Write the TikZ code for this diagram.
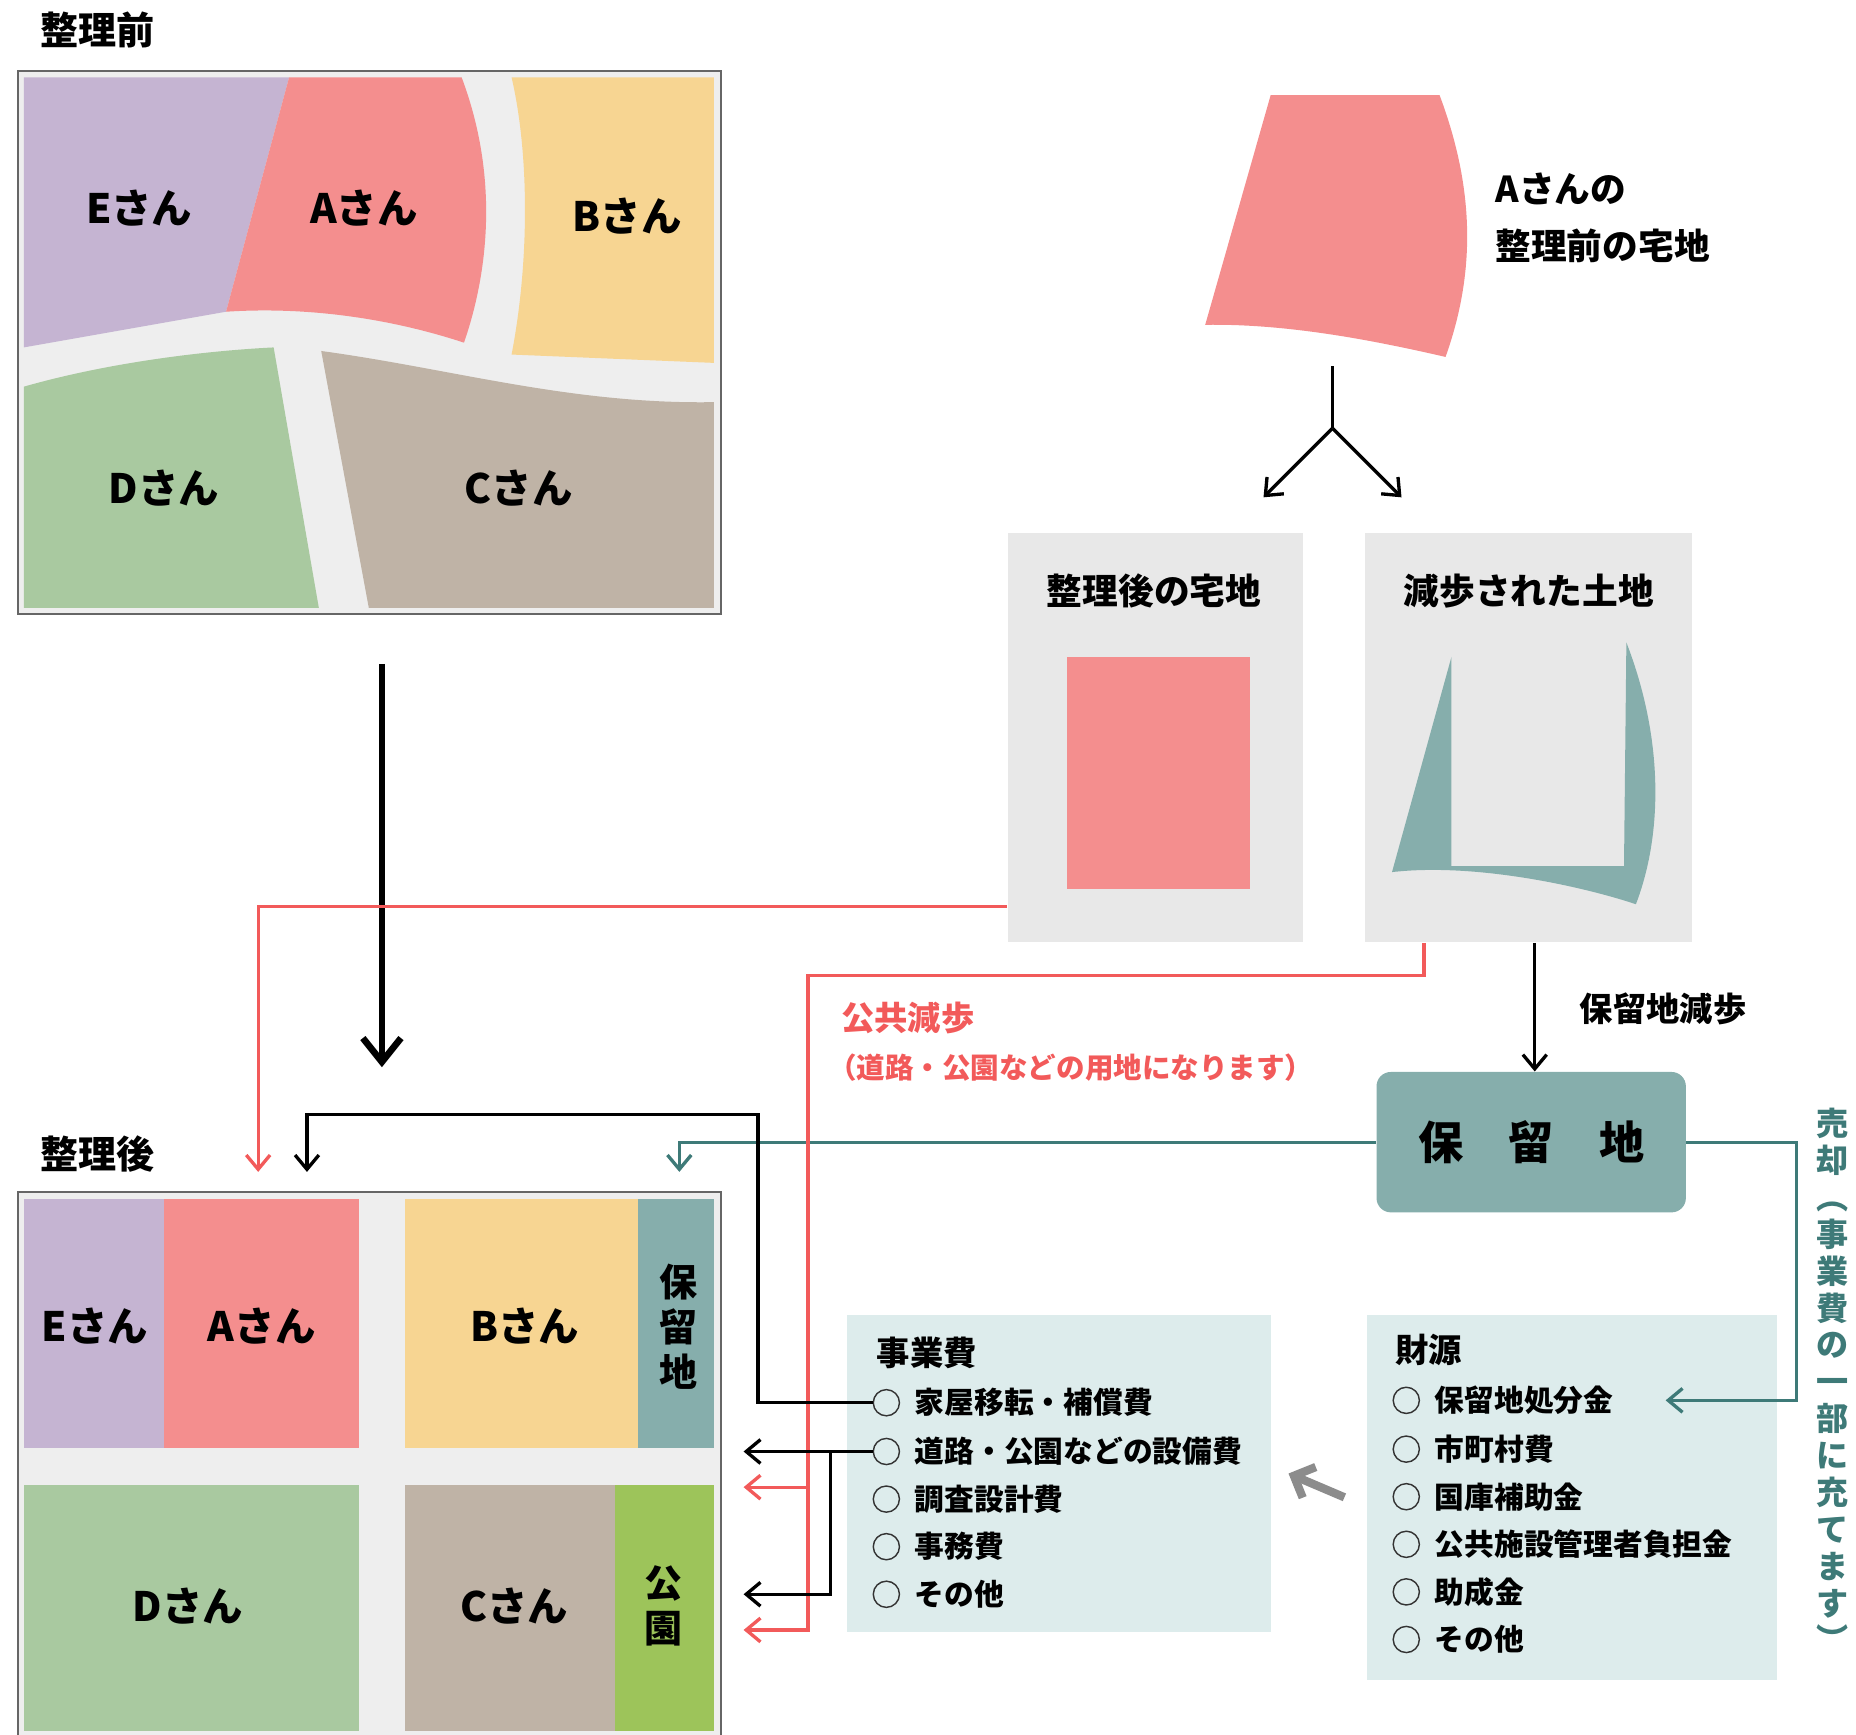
\documentclass[tikz,border=0pt]{standalone}
\usepackage{fontspec}
\setmainfont{Noto Sans CJK JP}
\usetikzlibrary{arrows.meta}
\definecolor{pE}{HTML}{C5B4D2}
\definecolor{pA}{HTML}{F48E8E}
\definecolor{pB}{HTML}{F7D592}
\definecolor{pD}{HTML}{A9C9A0}
\definecolor{pC}{HTML}{BFB3A6}
\definecolor{pT}{HTML}{86AEAC}
\definecolor{pG}{HTML}{9DC45A}
\definecolor{road}{HTML}{EEEEEE}
\definecolor{boxg}{HTML}{E8E8E8}
\definecolor{boxb}{HTML}{DDECEC}
\definecolor{teal}{HTML}{3E7A78}
\definecolor{red}{HTML}{F25A5A}
\begin{document}
\begin{tikzpicture}[x=0.5pt,y=-0.5pt,
 lab/.style={font=\fontsize{17}{17}\selectfont\bfseries},
 ttl/.style={font=\fontsize{15}{15}\selectfont\bfseries},
 itm/.style={font=\fontsize{12.5}{13}\selectfont\bfseries,anchor=west},
 circ/.style={circle,draw=black!80,line width=0.6pt,minimum size=11pt,inner sep=0pt},
 ar/.style={-{Straight Barb[length=6pt,width=10pt]},line width=1.4pt},
 vt/.style={align=center,font=\fontsize{16}{19}\selectfont\bfseries}]
\useasboundingbox (0,0) rectangle (1560,1458);
% ---- before
\node[ttl,font=\fontsize{16}{16}\selectfont\bfseries] (t1) at (82,25) {整理前};
\draw[fill=road,draw=black!60,line width=0.8pt] (15,60) rectangle (606,516);
\fill[pE] (20,65) -- (243,65) -- (190,262) -- (20,292) -- cycle;
\fill[pA] (243,65) -- (388,65) .. controls (420,150) and (410,230) .. (390,288) .. controls (320,265) and (250,258) .. (190,262) -- cycle;
\fill[pB] (430,65) -- (600,65) -- (600,305) -- (430,298) .. controls (445,220) and (445,130) .. cycle;
\fill[pD] (20,325) .. controls (90,305) and (170,295) .. (230,292) -- (268,511) -- (20,511) -- cycle;
\fill[pC] (270,295) .. controls (380,310) and (480,340) .. (600,338) -- (600,511) -- (310,511) -- cycle;
\node[lab] (lE) at (117,175) {Eさん};
\node[lab] (lA) at (306,175) {Aさん};
\node[lab] (lB) at (527,182) {Bさん};
\node[lab] (lD) at (138,410) {Dさん};
\node[lab] (lC) at (436,410) {Cさん};
\coordinate (bigS) at (321,558); \coordinate (bigE) at (321,897);
\draw[-{Straight Barb[length=10pt,width=16pt]},line width=2.8pt] (bigS) -- (bigE);
% ---- after
\node[font=\fontsize{16}{16}\selectfont\bfseries] (t2) at (82,970) {整理後};
\draw[fill=road,draw=black!60,line width=0.8pt] (15,1002) rectangle (606,1460);
\fill[pE] (20,1008) rectangle (138,1217);
\fill[pA] (138,1008) rectangle (302,1217);
\fill[pB] (340,1008) rectangle (536,1217);
\fill[pT] (536,1008) rectangle (600,1217);
\fill[pD] (20,1248) rectangle (302,1455);
\fill[pC] (340,1248) rectangle (517,1455);
\fill[pG] (517,1248) rectangle (600,1455);
\node[lab] (qE) at (80,1115) {Eさん};
\node[lab] (qA) at (220,1115) {Aさん};
\node[lab] (qB) at (441,1115) {Bさん};
\node[vt] (qH) at (570,1115) {保\\留\\地};
\node[lab] (qD) at (158,1350) {Dさん};
\node[lab] (qC) at (432,1350) {Cさん};
\node[vt] (qK) at (558,1350) {公\\園};
% ---- A's land
\fill[pA] (1068,80) -- (1210,80) .. controls (1240,160) and (1240,230) .. (1215,300) .. controls (1150,285) and (1080,272) .. (1013,273) -- cycle;
\node[ttl,anchor=west,align=left,font=\fontsize{15}{24}\selectfont\bfseries] (aT) at (1250,183) {Aさんの\\整理前の宅地};
\coordinate (sp0) at (1120,308); \coordinate (sp1) at (1120,360);
\coordinate (sL) at (1062,418); \coordinate (sR) at (1178,418);
\draw[line width=1.4pt] (sp0) -- (sp1);
\draw[ar] (sp1) -- (sL); \draw[ar] (sp1) -- (sR);
% boxes
\node[fill=boxg,minimum width=124pt,minimum height=172pt,inner sep=0] (b1) at (971,620) {};
\node[fill=boxg,minimum width=137.5pt,minimum height=172pt,inner sep=0] (b2) at (1284.5,620) {};
\node[ttl] (b1t) at (970,497) {整理後の宅地};
\node[ttl] (b2t) at (1285,497) {減歩された土地};
\fill[pA] (897,552) rectangle (1051,747);
\fill[pT] (1170,733) -- (1220,552) -- (1220,728) -- (1365,728) -- (1367,540) .. controls (1398,620) and (1398,700) .. (1375,760) .. controls (1330,745) and (1240,725) .. (1170,733) -- cycle;
% 保留地
\node[fill=pT,rounded corners=6pt,minimum width=130pt,minimum height=59pt,inner sep=0,font=\fontsize{19}{19}\selectfont\bfseries] (hr) at (1287,960) {保　留　地};
\draw[-{Straight Barb[length=6pt,width=10pt]},line width=1.4pt] (b2.south -| 1290,803) -- (hr.north -| 1290,890);
\node[ttl,font=\fontsize{14}{14}\selectfont\bfseries] (gl) at (1398,848) {保留地減歩};
% 事業費 box
\node[fill=boxb,minimum width=178pt,minimum height=133.5pt,inner sep=0] (jb) at (890,1238.5) {};
\node[ttl,anchor=west,font=\fontsize{14}{14}\selectfont\bfseries] (jt) at (730,1137) {事業費};
\foreach \y/\t [count=\i] in {1179/家屋移転・補償費,1220/道路・公園などの設備費,1260/調査設計費,1300/事務費,1340/その他}{
 \node[circ] (jc\i) at (745,\y) {};
 \node[itm] (ji\i) at (762,\y) {\t};}
% 財源 box
\node[fill=boxb,minimum width=172.5pt,minimum height=153.5pt,inner sep=0] (zb) at (1321.5,1258.5) {};
\node[ttl,anchor=west,font=\fontsize{14}{14}\selectfont\bfseries] (zt) at (1166,1135) {財源};
\foreach \y/\t [count=\i] in {1177/保留地処分金,1218/市町村費,1258/国庫補助金,1298/公共施設管理者負担金,1338/助成金,1378/その他}{
 \node[circ] (zc\i) at (1182,\y) {};
 \node[itm] (zi\i) at (1199,\y) {\t};}
\draw[-{Straight Barb[length=7pt,width=14pt]},line width=3.5pt,draw=black!45] (zb.west -| 1130,1243) -- (jb.east -| 1083,1243);
% teal lines
\coordinate (tA) at (571,985);
\draw[teal,-{Straight Barb[length=6pt,width=10pt]},line width=1.4pt] (hr.west) -- (571,960) -- (tA);
\coordinate (tB) at (1400,1177);
\draw[teal,-{Straight Barb[length=6pt,width=10pt]},line width=1.4pt] (hr.east) -- (1510,960) -- (1510,1177) -- (tB);
\node[align=center,text=teal,font=\fontsize{13.5}{15.5}\selectfont\bfseries] (sv) at (1540,1160) {売\\却\\︵\\事\\業\\費\\の\\一\\部\\に\\充\\て\\ま\\す\\︶};
% red lines
\coordinate (rA) at (217,985);
\draw[red,-{Straight Barb[length=6pt,width=10pt]},line width=1.4pt] (b1.west |- 0,762) -- (217,762) -- (rA);
\coordinate (rB) at (625,1370); \coordinate (rC) at (625,1250);
\draw[red,-{Straight Barb[length=6pt,width=10pt]},line width=1.4pt] (b2.south -| 1197,792) -- (1197,820) -- (679,820) -- (679,1370) -- (rB);
\draw[red,-{Straight Barb[length=6pt,width=10pt]},line width=1.4pt] (679,1250) -- (rC);
\node[text=red,font=\fontsize{14}{14}\selectfont\bfseries] (rt1) at (763,856) {公共減歩};
\node[text=red,font=\fontsize{12}{12}\selectfont\bfseries] (rt2) at (900,897) {（道路・公園などの用地になります）};
% black lines
\coordinate (kA) at (258,985);
\draw[-{Straight Barb[length=6pt,width=10pt]},line width=1.4pt] (jc1.west) -- (637,1179) -- (637,937) -- (258,937) -- (kA);
\coordinate (kB) at (625,1220); \coordinate (kC) at (625,1340);
\draw[-{Straight Barb[length=6pt,width=10pt]},line width=1.4pt] (jc2.west) -- (kB);
\draw[-{Straight Barb[length=6pt,width=10pt]},line width=1.4pt] (698,1220) -- (698,1340) -- (kC);
\end{tikzpicture}
\end{document}
